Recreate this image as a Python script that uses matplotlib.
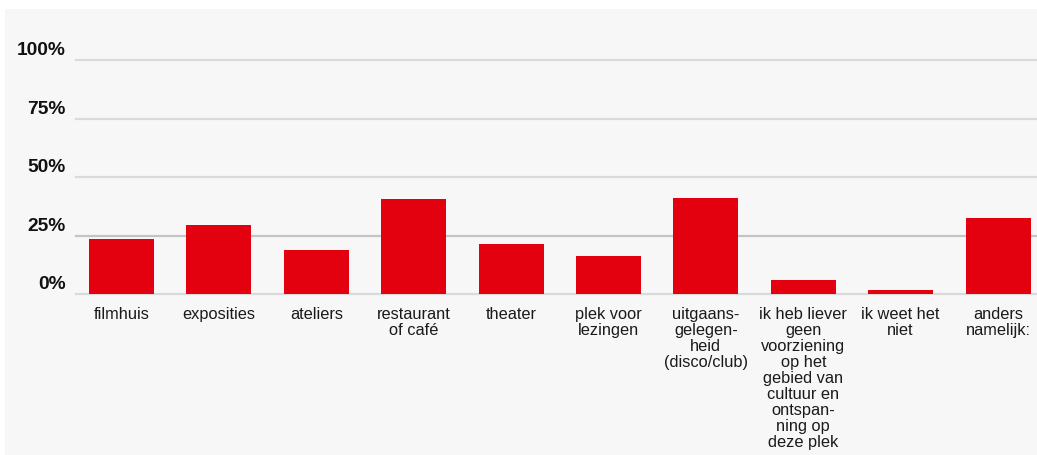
import matplotlib
matplotlib.use("Agg")
import matplotlib.pyplot as plt
from matplotlib.patches import Rectangle

# ---- data ----
categories = ["filmhuis", "exposities", "ateliers", "restaurant\nof café", "theater",
              "plek voor\nlezingen", "uitgaans-\ngelegen-\nheid\n(disco/club)",
              "ik heb liever\ngeen\nvoorziening\nop het\ngebied van\ncultuur en\nontspan-\nning op\ndeze plek",
              "ik weet het\nniet", "anders\nnamelijk:"]
values = [23.4, 29.4, 18.7, 40.7, 21.6, 16.3, 40.9, 6.0, 1.7, 32.4]
yticks = [0, 25, 50, 75, 100]
ytick_labels = ["0%", "25%", "50%", "75%", "100%"]

W, H = 1037, 455
plt.rcParams["font.family"] = ["Liberation Sans", "DejaVu Sans"]
fig = plt.figure(figsize=(W/100, H/100), dpi=100, facecolor="white")
bg = Rectangle((5/W, 0), 1, (H-9)/H, transform=fig.transFigure,
               facecolor="#f7f7f7", edgecolor="none", zorder=-10)
fig.add_artist(bg)

left, right = 76/W, 1.0
bottom, top = 1 - 294.3/H, 1 - 60/H
ax = fig.add_axes([left, bottom, right-left, top-bottom])
ax.set_zorder(1)
ax.set_facecolor("none")
x = list(range(len(categories)))
for t in yticks:
    ax.axhline(t, color="#c4c4c4" if t == 25 else "#dadada", lw=1.6, zorder=1, clip_on=False)
ax.bar(x, values, width=0.667, color="#e3000f", zorder=2)
ax.set_xlim(-0.467, 9.40)
ax.set_ylim(0, 100)
for t, lab in zip(yticks, ytick_labels):
    ax.annotate(lab, xy=(0, t), xycoords=("axes fraction", "data"), xytext=(-7.2, 3.6),
                textcoords="offset points", ha="right", va="baseline",
                fontsize=13.8, fontweight="bold", color="#111111")
ax.set_yticks([])
ax.set_xticks(x)
ax.set_xticklabels(categories, fontsize=11.8, color="#1a1a1a", linespacing=1.09)
ax.tick_params(axis="x", length=0, pad=9)
for s in ax.spines.values():
    s.set_visible(False)
fig.savefig("out.png", dpi=100, facecolor="white")
